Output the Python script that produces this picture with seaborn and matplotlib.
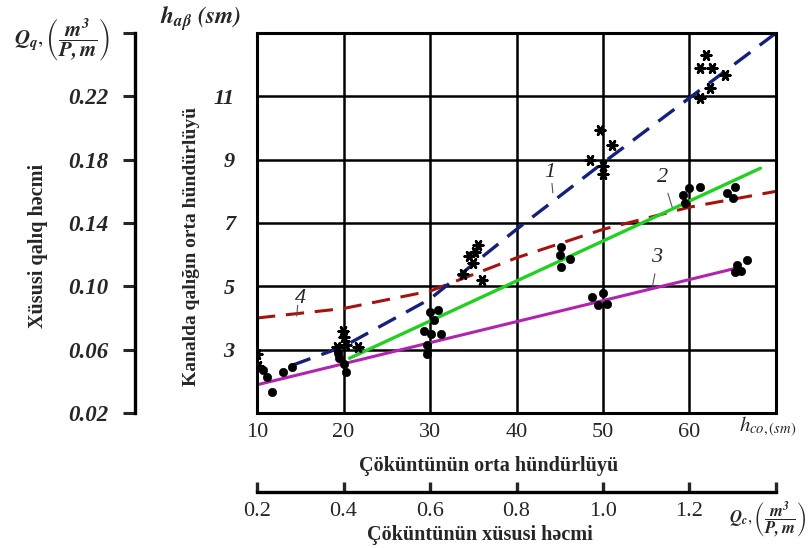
import matplotlib
matplotlib.use('Agg')
import matplotlib.pyplot as plt
import seaborn as sns

# curve 1 (blue dashed) - h_ab vs h_co
x1 = [14, 20, 30, 40, 50, 60, 70]
h1 = [2.5, 3.1, 4.6, 6.8, 8.9, 10.95, 13.0]
# curve 2 (green)
x2 = [20.7, 68.2]
h2 = [2.73, 8.73]
# curve 3 (magenta)
x3 = [10.3, 65.8]
h3 = [1.91, 5.6]
# curve 4 (red dashed)
x4 = [10, 20, 30, 40, 50, 60, 70]
h4 = [4.0, 4.3, 4.85, 5.9, 6.8, 7.5, 8.0]

# measured points (stars)
star_x = [10.0, 10.1, 19.9, 19.3, 20.3, 21.7, 20.0, 33.8, 34.5, 35.5, 35.0, 36.0, 35.2,
          49.7, 48.5, 50.0, 50.0, 51.0, 61.9, 61.2, 62.6, 64.1, 61.2, 62.4]
star_h = [2.85, 2.5, 3.6, 3.1, 3.15, 3.1, 3.4, 5.4, 5.95, 6.3, 5.75, 5.2, 6.1,
          9.95, 9.0, 8.8, 8.55, 9.45, 12.3, 11.9, 11.9, 11.66, 10.94, 11.25]
# measured points (dots)
dot_x = [10.7, 11.2, 11.7, 13.0, 14.0, 19.4, 20.0, 20.3, 19.5, 30.0, 30.9, 30.5, 29.3,
         31.3, 30.1, 29.6, 29.7, 45.2, 45.0, 46.2, 45.1, 48.7, 49.4, 50.5, 50.0,
         59.2, 60.0, 61.2, 59.5, 64.3, 65.3, 65.0, 65.5, 66.6, 65.3, 66.0]
dot_h = [2.36, 2.14, 1.66, 2.29, 2.45, 2.9, 2.55, 2.3, 2.75, 4.2, 4.25, 3.95, 3.6,
         3.5, 3.5, 3.15, 2.85, 6.25, 6.0, 5.85, 5.6, 4.65, 4.4, 4.45, 4.8,
         7.88, 8.1, 8.13, 7.62, 7.94, 8.13, 7.8, 5.67, 5.83, 5.45, 5.5]

x_ticks = [10, 20, 30, 40, 50, 60, 70]
x_labels = ['10', '20', '30', '40', '50', '60', '']
h_ticks = [3, 5, 7, 9, 11]
q_ticks = [0.02, 0.06, 0.10, 0.14, 0.18, 0.22, 0.26]
q_labels = ['0.02', '0.06', '0.10', '0.14', '0.18', '0.22', '']
qc_ticks = [0.2, 0.4, 0.6, 0.8, 1.0, 1.2, 1.4]
qc_labels = ['0.2', '0.4', '0.6', '0.8', '1.0', '1.2', '']

sns.set_style('white')
plt.rcParams['font.family'] = ['Liberation Serif', 'DejaVu Serif']
plt.rcParams['mathtext.fontset'] = 'stix'

W, H = 811, 548
fig = plt.figure(figsize=(W / 100, H / 100), dpi=100)


def fx(px):
    return px / W


def fy(py):
    return 1 - py / H


L, R, T, B = 257, 776, 33, 413
ax = fig.add_axes([fx(L), fy(B), (R - L) / W, (B - T) / H])

sns.lineplot(x=x4, y=h4, ax=ax, color='#a3140f', lw=2.2, linestyle=(0, (6, 3.5)), sort=False)
sns.lineplot(x=x3, y=h3, ax=ax, color='#b024b0', lw=2.2, sort=False)
sns.lineplot(x=x2, y=h2, ax=ax, color='#22d022', lw=2.4, sort=False)
sns.lineplot(x=x1, y=h1, ax=ax, color='#15207a', lw=2.4, linestyle=(0, (6, 3.5)), sort=False)
sns.scatterplot(x=dot_x, y=dot_h, ax=ax, color='black', s=36, edgecolor='black', zorder=5)
sns.scatterplot(x=star_x, y=star_h, ax=ax, color='black', marker=(6, 2, 90), s=45,
                linewidth=2, zorder=5)

ax.set_xlim(10, 70)
ax.set_ylim(1, 13)
ax.set_xticks(x_ticks)
ax.set_xticklabels(x_labels, fontsize=16)
ax.set_yticks(h_ticks)
ax.set_yticklabels([str(t) for t in h_ticks], fontsize=16, fontstyle='italic', fontweight='bold')
ax.tick_params(length=0, axis='y', pad=16)
ax.tick_params(length=0, axis='x', pad=7)
ax.grid(True, color='black', lw=1.8)
for s in ax.spines.values():
    s.set_linewidth(2.2)
    s.set_color('black')

# curve labels
for txt, tx, ty, lx0, ly0, lx1, ly1 in [('1', 43.9, 8.6, 44.1, 8.25, 44.2, 7.95),
                                         ('2', 56.9, 8.44, 57.5, 7.94, 58.0, 7.5),
                                         ('3', 56.2, 5.92, 56.0, 5.4, 55.7, 4.97),
                                         ('4', 15.0, 4.63, 14.7, 4.4, 14.6, 4.06)]:
    ax.text(tx, ty, txt, fontsize=16, fontstyle='italic', ha='center', va='center')
    ax.plot([lx0, lx1], [ly0, ly1], color='#555555', lw=0.8)

# outer Q_q axis
axq = fig.add_axes([fx(135), fy(B), 0.0001, (B - T) / H])
axq.set_ylim(0.02, 0.26)
axq.set_xticks([])
axq.set_yticks(q_ticks)
axq.set_yticklabels(q_labels, fontsize=16.5, fontstyle='italic', fontweight='bold')
axq.tick_params(axis='y', direction='out', length=9, width=2.2, pad=10, left=True)
for k, s in axq.spines.items():
    s.set_visible(k == 'left')
axq.spines['left'].set_linewidth(2.4)
axq.spines['left'].set_color('black')
axq.set_facecolor('none')

# secondary bottom Q_c axis
axc = fig.add_axes([fx(L), fy(492), (R - L) / W, 0.0001])
axc.set_xlim(0.2, 1.4)
axc.set_yticks([])
axc.set_xticks(qc_ticks)
axc.set_xticklabels(qc_labels, fontsize=16)
axc.tick_params(axis='x', direction='in', length=7, width=2.4, pad=7, bottom=True)
for k, s in axc.spines.items():
    s.set_visible(k == 'bottom')
axc.spines['bottom'].set_linewidth(2.4)
axc.spines['bottom'].set_color('black')
axc.set_facecolor('none')

# texts
fig.text(fx(489), fy(466), 'Çöküntünün orta hündürlüyü', fontsize=14.5, fontweight='bold',
         ha='center', va='center')
fig.text(fx(480), fy(535), 'Çöküntünün xüsusi həcmi', fontsize=14.5, fontweight='bold',
         ha='center', va='center')
fig.text(fx(192), fy(246), 'Kanalda qalığın orta hündürlüyü', fontsize=14, fontweight='bold',
         rotation=90, ha='center', va='center')
fig.text(fx(38), fy(246), 'Xüsusi qalıq həcmi', fontsize=14.5, fontweight='bold',
         rotation=90, ha='center', va='center')
fig.text(fx(201), fy(19), r'$\mathbfit{h_{a\beta}}$ $\mathbfit{(sm)}$', fontsize=17,
         ha='center', va='center')
fig.text(fx(62), fy(40), r'$\mathbfit{Q_q},\left(\dfrac{\mathbfit{m^3}}{\mathbfit{P,m}}\right)$',
         fontsize=15, ha='center', va='center')
fig.text(fx(768), fy(427), r'$h_{co,(sm)}$', fontsize=15, ha='center', va='center')
fig.text(fx(806), fy(520), r'$\mathbfit{Q_c},\left(\dfrac{\mathbfit{m^3}}{\mathbfit{P,m}}\right)$',
         fontsize=12, ha='right', va='center')

fig.savefig('out.png', dpi=100)
